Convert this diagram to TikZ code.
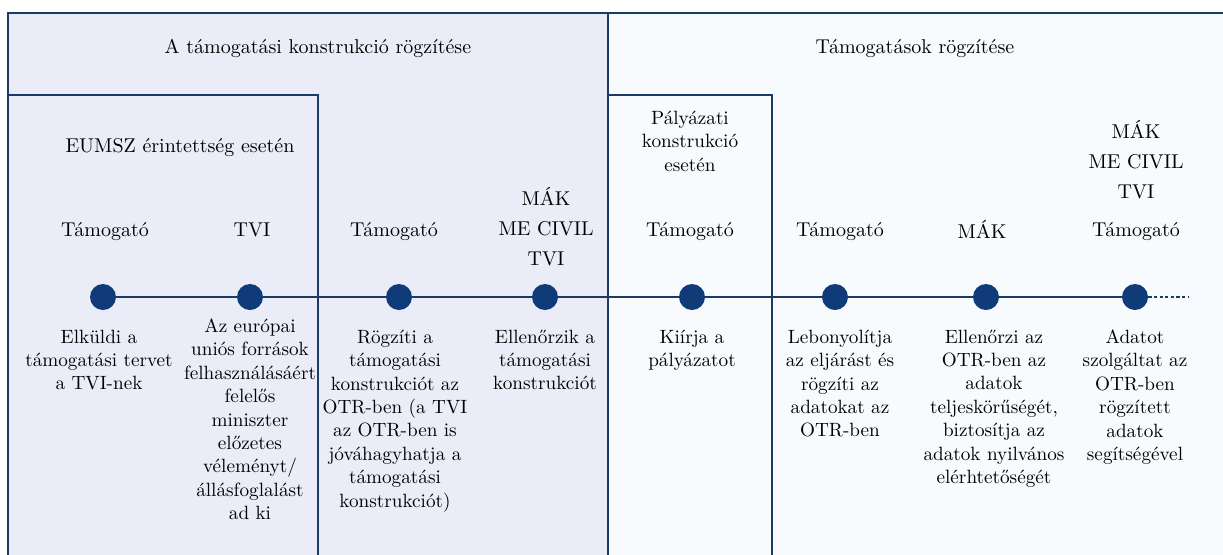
\documentclass[tikz,border=0pt]{standalone}
\usepackage{fontspec}
\usepackage{tikz}
\usetikzlibrary{positioning}

\definecolor{keretkek}{HTML}{1B3A66}
\definecolor{pontkek}{HTML}{0F3B78}
\definecolor{balhatter}{HTML}{EAEDF8}
\definecolor{jobbhatter}{HTML}{F7FBFE}

\tikzset{
  keret/.style={draw=keretkek, line width=1pt},
  pont/.style={circle, fill=pontkek, inner sep=0pt, minimum size=13pt},
  szerep/.style={align=center, inner sep=0pt, font=\fontsize{10}{15}\selectfont},
  leiras/.style={align=center, inner sep=0pt, font=\fontsize{9.6}{11.7}\selectfont},
  idovonal/.style={draw=keretkek, line width=1.2pt},
}

\begin{document}
\begin{tikzpicture}[x=0.5pt, y=-0.5pt]
    \useasboundingbox (0,0) rectangle (1223,554);
    \clip (0,0) rectangle (1223,554);

    % keretek
    \draw[keret, fill=balhatter] (8,13) rectangle (608,570);
    \draw[keret, fill=jobbhatter] (608,13) rectangle (1240,570);
    \draw[keret] (8,95) rectangle (318,570);
    \draw[keret] (608,95) rectangle (772,570);

    \node[szerep, anchor=base] (cimbal) at (318,53) {A támogatási konstrukció rögzítése};
    \node[szerep, anchor=base] (cimjobb) at (915,53) {Támogatások rögzítése};
    \node[szerep, anchor=base] (eumsz) at (180,152) {EUMSZ érintettség esetén};
    \node[leiras, anchor=south] (palyazati) at (690,172) {Pályázati\\konstrukció\\esetén};

    % pontok
    \node[pont] (p1) at (103,297) {};
    \node[pont] (p2) at (250,297) {};
    \node[pont] (p3) at (399,297) {};
    \node[pont] (p4) at (545,297) {};
    \node[pont] (p5) at (692,297) {};
    \node[pont] (p6) at (835,297) {};
    \node[pont] (p7) at (986,297) {};
    \node[pont] (p8) at (1135,297) {};
    \coordinate (vege) at (1188,297);

    \draw[idovonal] (p1) -- (p2) -- (p3) -- (p4) -- (p5) -- (p6) -- (p7) -- (p8);
    \draw[idovonal, dash pattern=on 1.6pt off 1.2pt] (p8) -- (vege);

    % szereplok
    \node[szerep, anchor=base] (sz1) at (105,236) {Támogató};
    \node[szerep, anchor=base] (sz2) at (252,236) {TVI};
    \node[szerep, anchor=base] (sz3) at (394,236) {Támogató};
    \node[szerep, anchor=south] (sz4) at (546,266) {MÁK\\ME CIVIL\\TVI};
    \node[szerep, anchor=base] (sz5) at (690,236) {Támogató};
    \node[szerep, anchor=base] (sz6) at (840,236) {Támogató};
    \node[szerep, anchor=base] (sz7) at (982,238) {MÁK};
    \node[szerep, anchor=base] (sz8) at (1136,236) {Támogató};
    \node[szerep, anchor=south] (sz8b) at (1136,199) {MÁK\\ME CIVIL\\TVI};

    % leirasok
    \node[leiras, below=9.5pt of p1, xshift=-2pt] (l1) {Elküldi a\\támogatási tervet\\a TVI-nek};
    \node[leiras, below=4pt of p2] (l2) {Az európai\\uniós források\\felhasználásáért\\felelős\\miniszter\\előzetes\\véleményt/\\állásfoglalást\\ad ki};
    \node[leiras, below=9.5pt of p3, xshift=-2pt] (l3) {Rögzíti a\\támogatási\\konstrukciót az\\OTR-ben (a TVI\\az OTR-ben is\\jóváhagyhatja a\\támogatási\\konstrukciót)};
    \node[leiras, below=9.5pt of p4] (l4) {Ellenőrzik a\\támogatási\\konstrukciót};
    \node[leiras, below=9.5pt of p5] (l5) {Kiírja a\\pályázatot};
    \node[leiras, below=9.5pt of p6, xshift=2.5pt] (l6) {Lebonyolítja\\az eljárást és\\rögzíti az\\adatokat az\\OTR-ben};
    \node[leiras, below=9.5pt of p7, xshift=4pt] (l7) {Ellenőrzi az\\OTR-ben az\\adatok\\teljeskörűségét,\\biztosítja az\\adatok nyilvános\\elérhtetőségét};
    \node[leiras, below=9.5pt of p8] (l8) {Adatot\\szolgáltat az\\OTR-ben\\rögzített\\adatok\\segítségével};
\end{tikzpicture}
\end{document}
